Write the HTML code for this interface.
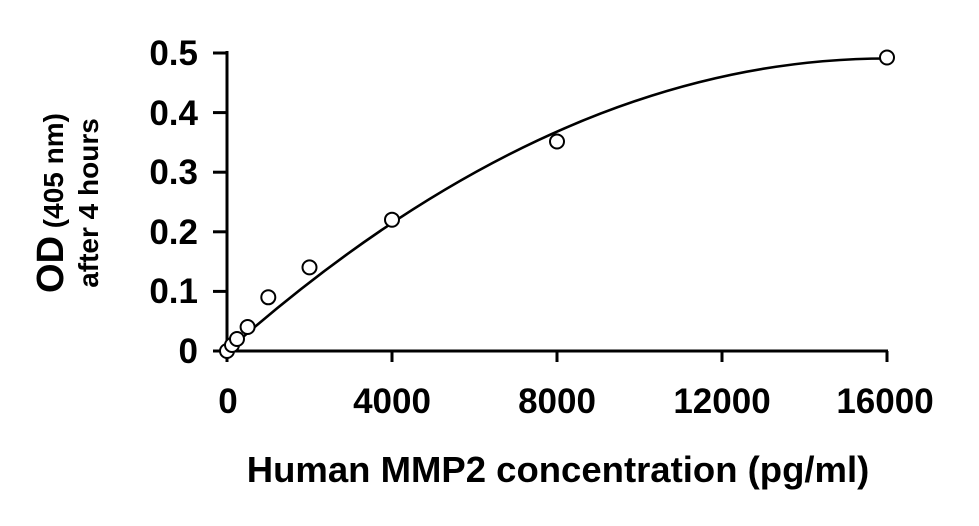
<!DOCTYPE html>
<html><head><meta charset="utf-8"><style>
body{margin:0;background:#fff;}
svg text{font-family:"Liberation Sans",Arial,sans-serif;font-weight:bold;fill:#000;}
</style></head><body>
<svg width="979" height="521" viewBox="0 0 979 521" xmlns="http://www.w3.org/2000/svg">
<g stroke="#000" stroke-width="3" fill="none">
<line x1="227" y1="51" x2="227" y2="352"/>
<line x1="226" y1="351" x2="888" y2="351"/>
<line x1="213" y1="53" x2="227" y2="53"/>
<line x1="213" y1="112.6" x2="227" y2="112.6"/>
<line x1="213" y1="172.2" x2="227" y2="172.2"/>
<line x1="213" y1="231.8" x2="227" y2="231.8"/>
<line x1="213" y1="291.4" x2="227" y2="291.4"/>
<line x1="213" y1="351" x2="227" y2="351"/>
<line x1="227" y1="351" x2="227" y2="362"/>
<line x1="392" y1="351" x2="392" y2="362"/>
<line x1="557" y1="351" x2="557" y2="362"/>
<line x1="722" y1="351" x2="722" y2="362"/>
<line x1="887" y1="351" x2="887" y2="362"/>
</g>
<path d="M227 351 Q557 58.5 887 58.5" stroke="#000" stroke-width="2.6" fill="none"/>
<g stroke="#000" stroke-width="2" fill="#fff">
<circle cx="227" cy="351" r="7"/>
<circle cx="232" cy="345" r="7"/>
<circle cx="237" cy="339" r="7"/>
<circle cx="247.6" cy="327" r="7"/>
<circle cx="268.3" cy="297.3" r="7"/>
<circle cx="309.5" cy="267.4" r="7"/>
<circle cx="392" cy="219.7" r="7"/>
<circle cx="557" cy="141.5" r="7"/>
<circle cx="887" cy="57.5" r="7"/>
</g>
<g font-size="35" text-anchor="end">
<text x="198" y="65">0.5</text>
<text x="198" y="125">0.4</text>
<text x="198" y="184">0.3</text>
<text x="198" y="244">0.2</text>
<text x="198" y="303">0.1</text>
<text x="198" y="363">0</text>
</g>
<g font-size="35" text-anchor="middle">
<text x="228" y="413">0</text>
<text x="392" y="413">4000</text>
<text x="557" y="413">8000</text>
<text x="722" y="413">12000</text>
<text x="885" y="413">16000</text>
</g>
<text x="558" y="482" font-size="36.5" text-anchor="middle">Human MMP2 concentration (pg/ml)</text>
<g transform="translate(63,203) rotate(-90)">
<text x="0" y="0" text-anchor="middle"><tspan font-size="38">OD</tspan><tspan font-size="28"> (405 nm)</tspan></text>
<text x="0" y="35" font-size="28" text-anchor="middle">after 4 hours</text>
</g>
</svg>
</body></html>
